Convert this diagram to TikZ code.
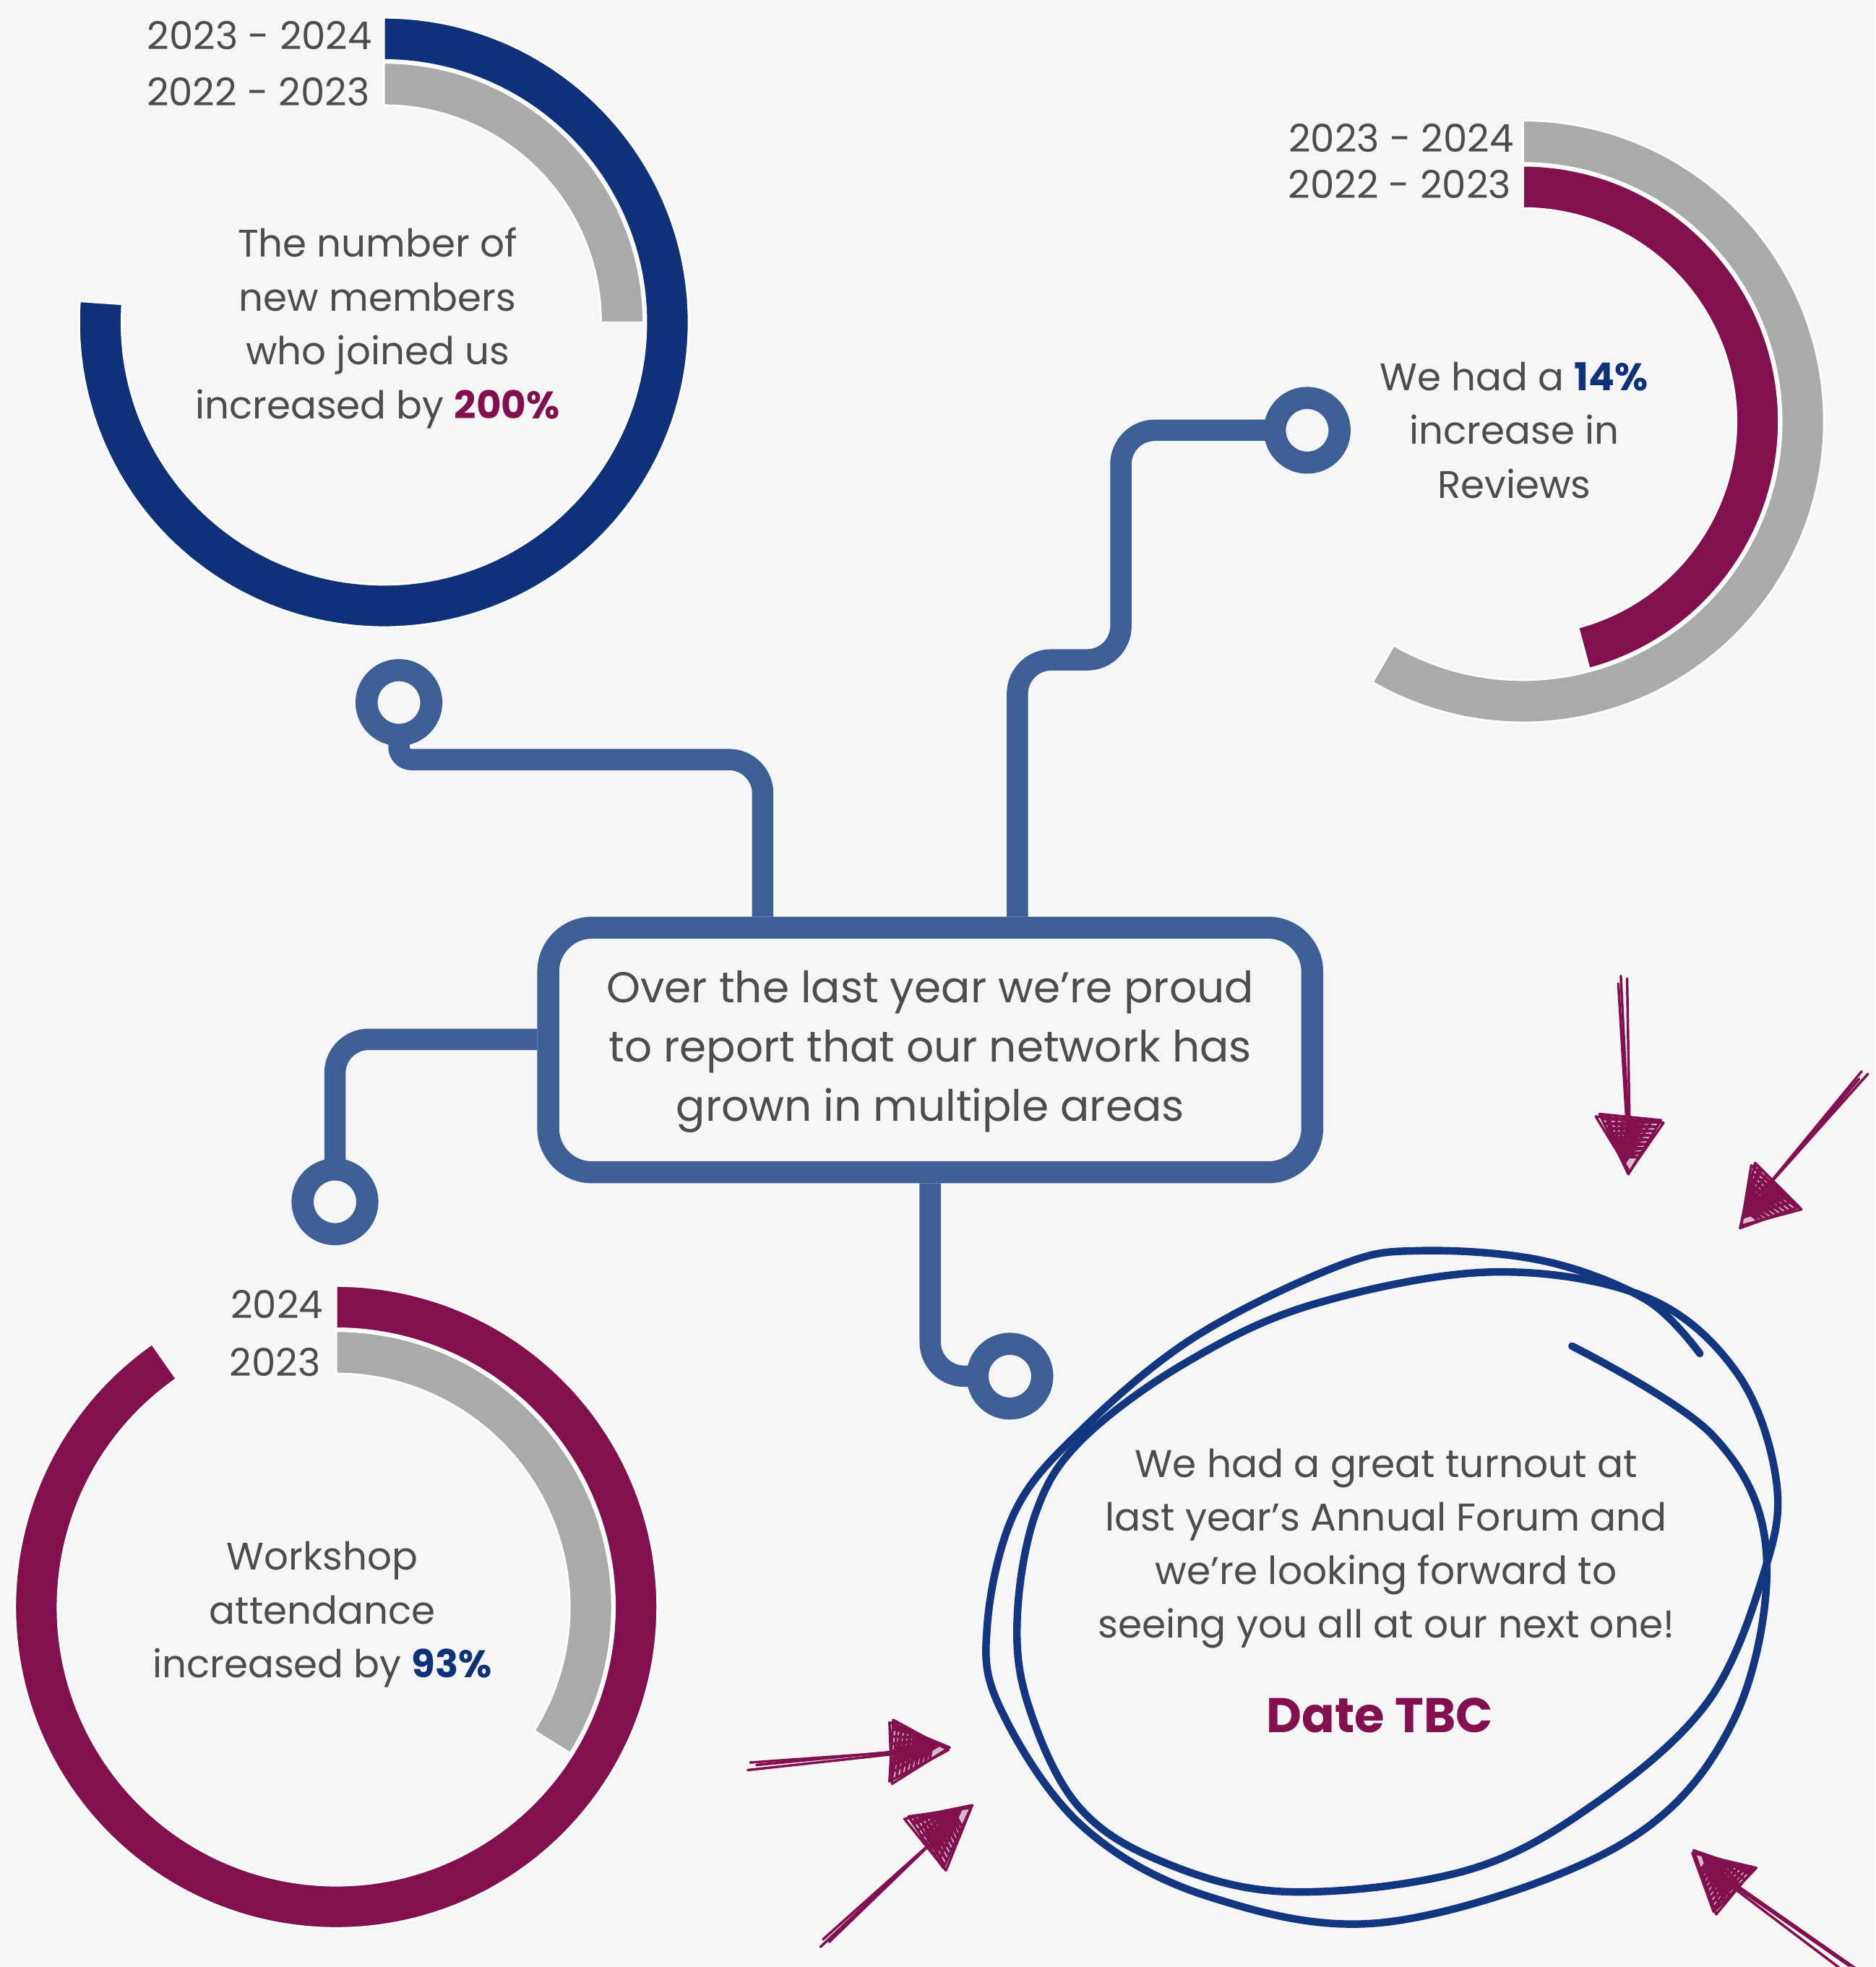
\documentclass[tikz,border=0pt]{standalone}
\usepackage{fontspec}
\setmainfont{Poppins}
\usetikzlibrary{calc}
\definecolor{bg}{HTML}{F6F6F6}
\definecolor{navy}{HTML}{0F3179}
\definecolor{connblue}{HTML}{3E5E96}
\definecolor{maroon}{HTML}{820F4E}
\definecolor{ringgray}{HTML}{AAAAAA}
\definecolor{txt}{HTML}{4D4D4D}
\definecolor{ellblue}{HTML}{12367F}
\pgfdeclarelayer{bglayer}
\pgfdeclarelayer{wires}
\pgfsetlayers{bglayer,wires,main}
\newcommand{\ringseg}[7]{%
  \fill[#7, draw=white, line width=0.8pt] (#1,#2) ++(#5:#4) arc[start angle=#5, end angle=#6, radius=#4] -- ($(#1,#2)+(#6:#3)$) arc[start angle=#6, end angle=#5, radius=#3] -- cycle;}
\newcommand{\scribarrow}[5]{%
  \draw[scr] (#4) -- (#5);
  \draw[scr] ($(#4)+(5,2)$) -- ($(#5)+(1,-1)$);
  \draw[scr] ($(#4)+(-2,6)$) -- ($(#5)+(-1,1)$);
  \draw[scr, fill=maroon, fill opacity=0.25] (#1) -- (#2) -- (#3) -- cycle;
  \draw[scr] ($(#1)+(1,-2)$) -- ($(#2)+(-3,2)$) -- ($(#3)+(2,2)$) -- cycle;
  \draw[scr] ($(#2)!0.05!(#3)$) \foreach \f in {0.08,0.16,...,0.8}{ -- ($(#2)!\f!(#1)$) -- ($(#3)!{\f-0.04}!(#1)$)};
  \draw[scr] ($(#2)!0.1!(#3)$) \foreach \f in {0.15,0.27,...,0.95}{ -- ($(#1)!{0.55-0.45*\f}!(#2)$) -- ($(#2)!\f!(#3)$)};
}
\begin{document}
\begin{tikzpicture}[x=0.5pt,y=-0.5pt,
  bodytext/.style={text=txt, align=center, inner sep=0pt, font=\fontsize{15.3}{21.5}\selectfont},
  lbl/.style={text=txt, inner sep=0pt, anchor=east, font=\fontsize{15.3}{17}\selectfont},
  wire/.style={draw=connblue, line width=8.5pt, rounded corners=13.5pt},
  hub/.style={circle, draw=connblue, line width=8.8pt, fill=bg, minimum size=25.8pt, inner sep=0pt},
  ell/.style={draw=ellblue, line width=3pt, line cap=round},
  scr/.style={draw=maroon, line width=1pt, line cap=round, line join=round}]
\begin{pgfonlayer}{bglayer}
\fill[bg] (0,0) rectangle (1495,1568);
\end{pgfonlayer}
\useasboundingbox (0,0) rectangle (1495,1568);
% rings
\ringseg{306}{257}{209}{243}{-90}{184}{navy}
\ringseg{306}{257}{173}{207}{-90}{0}{ringgray}
\ringseg{1214}{336}{206}{240}{-90}{120}{ringgray}
\ringseg{1214}{336}{170}{204}{-90}{75}{maroon}
\ringseg{268}{1281}{222}{256}{-90}{235}{maroon}
\ringseg{268}{1281}{186}{220}{-90}{32}{ringgray}
% labels
\node[lbl] (l1a) at (297,28) {2023 - 2024};
\node[lbl] (l1b) at (295,73) {2022 - 2023};
\node[lbl] (l2a) at (1207,110) {2023 - 2024};
\node[lbl] (l2b) at (1205,147) {2022 - 2023};
\node[lbl] (l3a) at (258,1040) {2024};
\node[lbl] (l3b) at (256,1086) {2023};
% ring texts
\node[bodytext] (t1) at (301,261.5) {The number of\\new members\\who joined us\\increased by \textcolor{maroon}{\textbf{200\%}}};
\node[bodytext] (t2) at (1207,343) {We had a \textcolor{navy}{\textbf{14\%}}\\increase in\\Reviews};
\node[bodytext] (t3) at (257,1287) {Workshop\\attendance\\increased by \textcolor{navy}{\textbf{93\%}}};
% box and hubs
\node[draw=connblue, line width=8.75pt, rounded corners=17.5pt, fill=bg, minimum width=304.5pt, minimum height=97.5pt, inner sep=0pt, text=txt] (box) at (741.5,837)
  {\raisebox{-1pt}{\fontsize{17.2}{23.75}\selectfont\begin{tabular}{@{}c@{}}Over the last year we’re proud\\to report that our network has\\grown in multiple areas\end{tabular}}};
\node[hub] (c1) at (318,560) {};
\node[hub] (c2) at (1042,343) {};
\node[hub] (c3) at (267,958) {};
\node[hub] (c4) at (805,1097) {};
\coordinate (k608) at (608,0);
\coordinate (k811) at (811,0);
\coordinate (k741) at (741.5,0);
\coordinate (k828) at (0,828.5);
\begin{pgfonlayer}{wires}
\draw[wire] (c1.center) [rounded corners=5pt] -- (318,605.5) [rounded corners=13.5pt] -- (608,605.5) -- (box.north -| k608);
\draw[wire] (box.north -| k811) -- (811,526) -- (893.5,526) -- (893.5,343) -- (c2.center);
\draw[wire] (box.west |- k828) -- (267,828.5) -- (c3.center);
\draw[wire] (box.south -| k741) -- (741.5,1097) -- (c4.center);
\end{pgfonlayer}
% hand-drawn ellipse
\draw[ell] plot[smooth, tension=0.6] coordinates {(1253,1073) (1365,1144) (1408,1238) (1381,1373) (1291,1471) (1107,1532) (964,1512) (862,1455) (797,1361) (787,1295) (809,1205) (862,1140) (952,1066) (1067,1009) (1132,997) (1230,1005) (1312,1036) (1355,1079)};
\draw[ell] plot[smooth cycle, tension=0.6] coordinates {(1189,1014) (1312,1034) (1385,1095) (1416,1181) (1406,1254) (1361,1357) (1271,1438) (1169,1491) (1026,1508) (924,1483) (858,1438) (819,1357) (811,1287) (826,1205) (862,1148) (944,1087) (1046,1040)};
\node[bodytext, font=\fontsize{15.4}{21.3}\selectfont] (t4) at (1105,1234.5) {We had a great turnout at\\last year’s Annual Forum and\\we’re looking forward to\\seeing you all at our next one!};
\node[text=maroon, inner sep=0pt, font=\fontsize{19.4}{22}\selectfont\bfseries] (date) at (1100,1367.6) {Date TBC};
% scribble arrows
\scribarrow{1298,936}{1275,888}{1324,893}{1292,778}{1298,900}
\scribarrow{1387,979}{1399,927}{1434,962}{1484,854}{1405,950}
\scribarrow{756,1395}{712,1371}{709,1420}{598,1405}{725,1396}
\scribarrow{774,1441}{724,1448}{752,1489}{656,1546}{750,1462}
\scribarrow{1349,1477}{1400,1489}{1366,1524}{1474,1567}{1375,1498}
\end{tikzpicture}
\end{document}
